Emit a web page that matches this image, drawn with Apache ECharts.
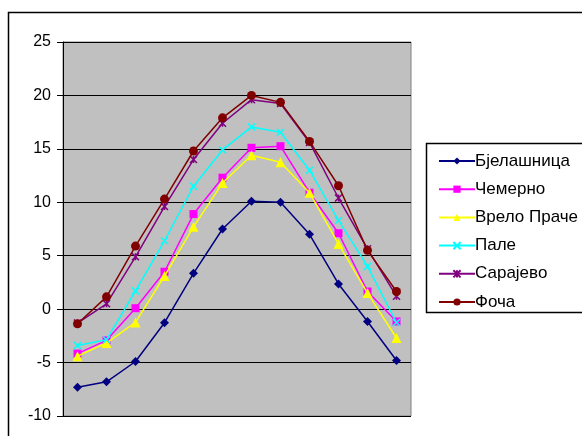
<!DOCTYPE html>
<html><head><meta charset="utf-8">
<script src="https://cdn.jsdelivr.net/npm/echarts@6/dist/echarts.min.js"></script>
<style>html,body{margin:0;padding:0;background:#fff}#c{width:582px;height:436px}</style>
</head><body><div id="c"></div>
<script>
const months = ['1','2','3','4','5','6','7','8','9','10','11','12'];
const yTicks = [-10, -5, 0, 5, 10, 15, 20, 25];
const names = ['Бјелашница','Чемерно','Врело Праче','Пале','Сарајево','Фоча'];
const bjelasnica = [-7.3,-6.8,-4.9,-1.27,3.35,7.5,10.1,10.0,7.0,2.36,-1.15,-4.8];
const cemerno = [-4.16,-2.92,0.09,3.5,8.9,12.3,15.1,15.25,10.9,7.1,1.65,-1.15];
const vreloPrace = [-4.4,-3.17,-1.24,3.1,7.7,11.8,14.4,13.75,10.9,6.1,1.5,-2.7];
const pale = [-3.4,-2.86,1.7,6.4,11.5,14.9,17.05,16.55,13.0,8.3,4.0,-1.25];
const sarajevo = [-1.3,0.5,4.9,9.6,14.0,17.4,19.6,19.25,15.6,10.4,5.65,1.2];
const foca = [-1.37,1.15,5.9,10.3,14.8,17.9,20.0,19.35,15.7,11.55,5.5,1.65];

const data = [bjelasnica, cemerno, vreloPrace, pale, sarajevo, foca];
const colors = ['#000080','#FF00FF','#FFFF00','#00FFFF','#800080','#800000'];
const symbols = ['diamond','rect','triangle','path://M0,0L10,10M10,0L0,10','path://M0,0L10,10M10,0L0,10M5,0L5,10','circle'];
const sizes = [9,8,10,7,7,9];
const font = 'Liberation Sans, Arial, sans-serif';

const chart = echarts.init(document.getElementById('c'), null, {renderer:'canvas'});
chart.setOption({
  animation:false,
  backgroundColor:'#fff',
  textStyle:{fontFamily:font},
  grid:{left:63,right:171,top:42,bottom:20,show:true,backgroundColor:'#C0C0C0',borderColor:'#808080',borderWidth:1},
  xAxis:{type:'category',data:months,boundaryGap:true,axisLine:{show:false},axisTick:{show:false},axisLabel:{show:false},splitLine:{show:false}},
  yAxis:{type:'value',min:yTicks[0],max:yTicks[yTicks.length-1],interval:5,
    axisLine:{show:true,lineStyle:{color:'#000',width:1}},
    axisTick:{show:true,length:6,lineStyle:{color:'#000'}},
    axisLabel:{color:'#000',fontSize:16,margin:12,fontFamily:font},
    splitLine:{show:true,lineStyle:{color:'#000',width:1}}},
  legend:{orient:'vertical',left:433,top:147.5,itemWidth:36,itemHeight:9,itemGap:11.2,
    textStyle:{fontSize:17,color:'#000',fontFamily:font,lineHeight:17,padding:[0,0,0,-5]},
    data:names},
  graphic:[
    {type:'rect',shape:{x:8.5,y:12.5,width:700,height:500},style:{fill:null,stroke:'#000',lineWidth:1.5},silent:true},
    {type:'rect',shape:{x:426.5,y:143.5,width:300,height:169},style:{fill:'#fff',stroke:'#000',lineWidth:1.5},silent:true,z:-1}
  ],
  series:names.map((n,i)=>({
    name:n,type:'line',data:data[i],symbol:symbols[i],symbolSize:sizes[i],
    lineStyle:{color:colors[i],width:1.5},
    itemStyle:{color:colors[i],borderColor:colors[i],borderWidth:(i===3||i===4)?1.5:0},
    z:2+i
  }))
});
</script></body></html>
